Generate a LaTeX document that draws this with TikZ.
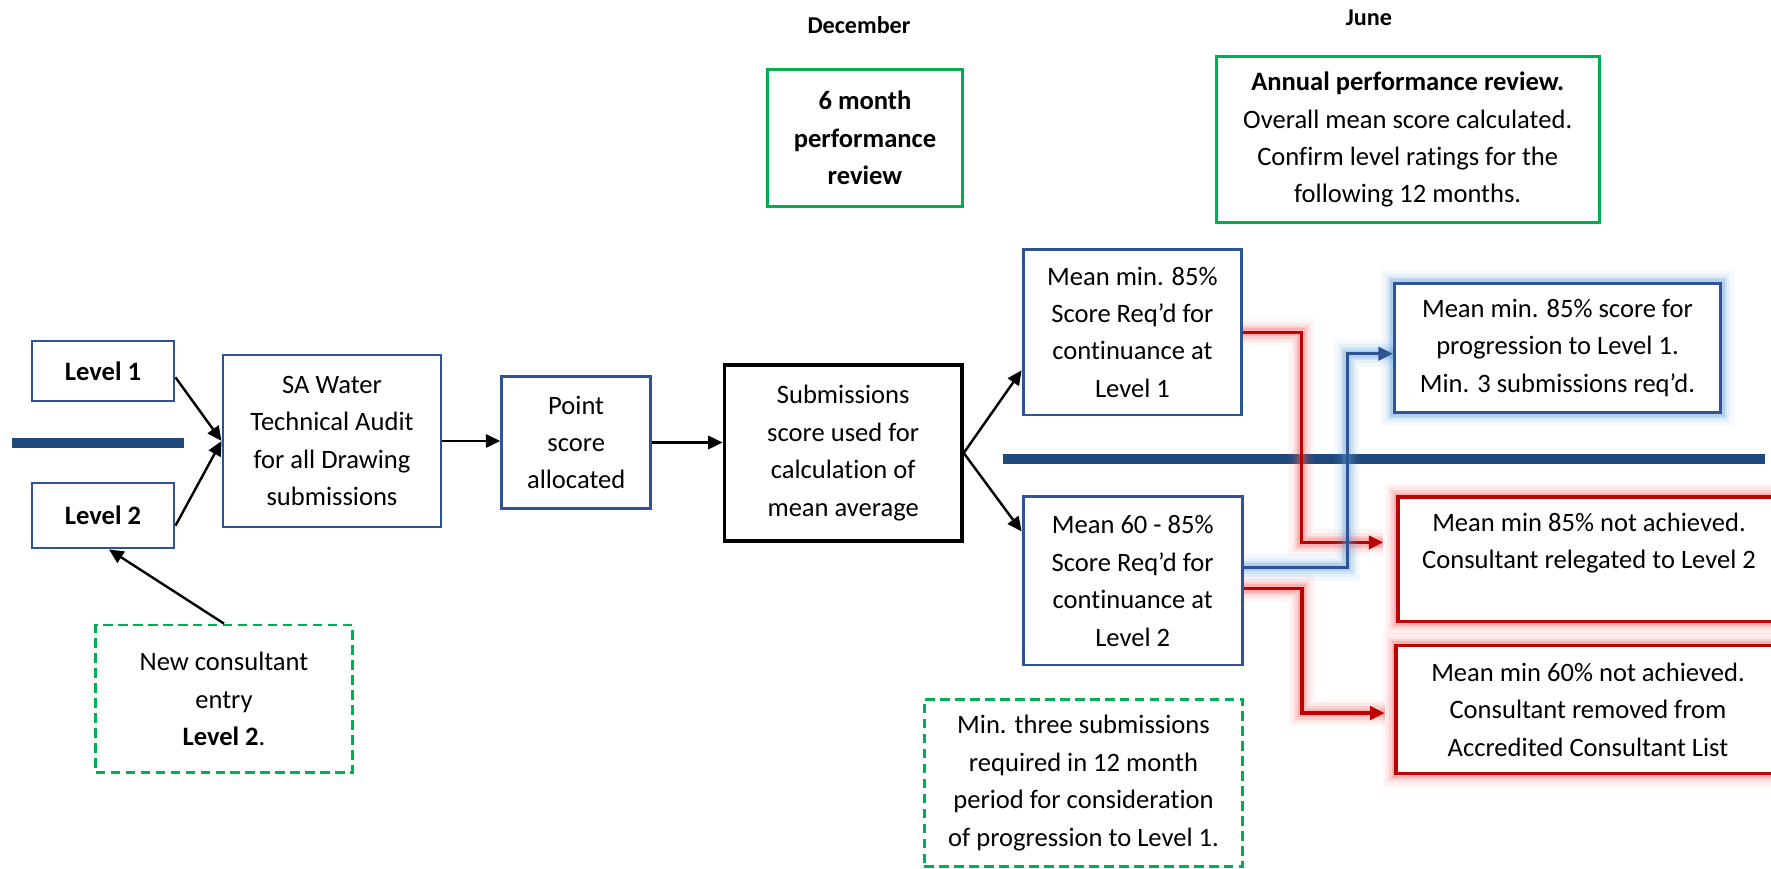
\documentclass[tikz,border=0pt]{standalone}
\usepackage{fontspec}
\setmainfont{Carlito}[Ligatures=NoCommon]
\usetikzlibrary{arrows.meta}
\definecolor{boxblue}{HTML}{2F5496}
\definecolor{barblue}{HTML}{1F497D}
\definecolor{boxgreen}{HTML}{00B050}
\definecolor{boxred}{HTML}{C00000}
\definecolor{glowred}{HTML}{F25C5C}
\definecolor{glowblue}{HTML}{5B9BD5}
\def\pu{0.414pt}
\begin{document}
\begin{tikzpicture}[x=\pu,y=-\pu,
    every node/.style={font=\fontsize{11}{15.5}\selectfont,align=center,inner sep=2pt},
    dims/.style 2 args={minimum width=#1*\pu,minimum height=#2*\pu},
    bluebox/.style={draw=boxblue,line width=1.2pt},
    blackbox/.style={draw=black,line width=1.4pt},
    greenbox/.style={draw=boxgreen,line width=1.2pt},
    greendash/.style={greenbox,dash pattern=on 4pt off 2.2pt},
    halo/.style={preaction={draw=#1,draw opacity=.06,line width=11pt,-},
        preaction={draw=#1,draw opacity=.1,line width=8pt,-},
        preaction={draw=#1,draw opacity=.16,line width=5.5pt,-},
        preaction={draw=#1,draw opacity=.25,line width=3.5pt,-}},
    glowbox/.style={bluebox,fill=white,halo=glowblue},
    redbox/.style={draw=boxred,line width=1.4pt,fill=white,halo=glowred},
    arr/.style={-{Triangle[length=6pt,width=5.5pt]},line width=1pt},
    redline/.style={boxred,line width=1.4pt,-{Triangle[length=6pt,width=5.5pt]},halo=glowred},
    blueline/.style={boxblue,line width=1.2pt,-{Triangle[length=6pt,width=5.5pt]},halo=glowblue},
    bar/.style={barblue,line width=4.1pt}]
\useasboundingbox (0,0) rectangle (1771,869);

\draw[bar] (12,443) -- (184,443);
\draw[bar] (1003,458.8) -- (1765,458.8);

\node[font=\fontsize{10}{12}\selectfont\bfseries] (dec) at (859,25) {December};
\node[font=\fontsize{10}{12}\selectfont\bfseries] (jun) at (1369,18) {June};

\node[greenbox,dims={194.6}{137.7},font=\fontsize{11}{15.5}\selectfont\bfseries] (six) at (865,138) {6 month\\ performance\\ review};
\node[greenbox,dims={383.3}{166}] (annual) at (1407.7,139.7) {\textbf{Annual performance review.}\\ Overall mean score calculated.\\ Confirm level ratings for the\\ following 12 months.};

\node[bluebox,dims={142}{60},font=\fontsize{11}{15.5}\selectfont\bfseries] (lvl1) at (103,371) {Level 1};
\node[bluebox,dims={142}{65},font=\fontsize{11}{15.5}\selectfont\bfseries] (lvl2) at (103,515.5) {Level 2};
\node[bluebox,dims={218}{172}] (audit) at (332,441) {SA Water\\ Technical Audit\\ for all Drawing\\ submissions};
\node[bluebox,dims={149}{131.6}] (point) at (576.2,442.5) {Point\\ score\\ allocated};
\node[blackbox,dims={237.7}{176}] (subm) at (843.2,453) {Submissions\\ score used for\\ calculation of\\ mean average};
\node[bluebox,dims={218.7}{165.7}] (cont1) at (1132.4,332.2) {Mean min. 85\%\\ Score Req’d for\\ continuance at\\ Level 1};
\node[bluebox,dims={219.3}{168.3}] (cont2) at (1132.7,580.9) {Mean 60 - 85\%\\ Score Req’d for\\ continuance at\\ Level 2};

\node[glowbox,dims={326.4}{129.4}] (prog) at (1557.5,348) {Mean min. 85\% score for\\ progression to Level 1.\\ Min. 3 submissions req’d.};
\node[redbox,dims={382}{124.7}] (relg) at (1589,559.3) {Mean min 85\% not achieved.\\ Consultant relegated to Level 2\\ ~};
\node[redbox,dims={384}{128}] (remv) at (1588,709.7) {Mean min 60\% not achieved.\\ Consultant removed from\\ Accredited Consultant List};

\node[greendash,dims={256.6}{147.7}] (newc) at (224,698.9) {New consultant\\ entry\\ \textbf{Level 2}.};
\node[greendash,dims={318.4}{167.4}] (minreq) at (1083.5,783) {Min. three submissions\\ required in 12 month\\ period for consideration\\ of progression to Level 1.};

\draw[arr] (lvl1.-5) -- (audit.west);
\draw[arr] (lvl2.-8) -- (audit.west);
\draw[arr] (newc.north) -- (lvl2.-80);
\draw[arr] (audit.east) -- (audit.east -| point.west);
\draw[arr] (point.east) -- (point.east -| subm.west);
\draw[arr] (subm.east) -- (cont1.199);
\draw[arr] (subm.east) -- (cont2.156);

\draw[redline,shorten >=5.4pt] (cont1.east) -- ++(58,0) |- (relg.175);
\draw[redline,shorten >=4pt] (cont2.-4) -- ++(58,0) |- (remv.181);
\draw[blueline] (cont2.7) -- ++(103.4,0) |- (prog.182);
\end{tikzpicture}
\end{document}
